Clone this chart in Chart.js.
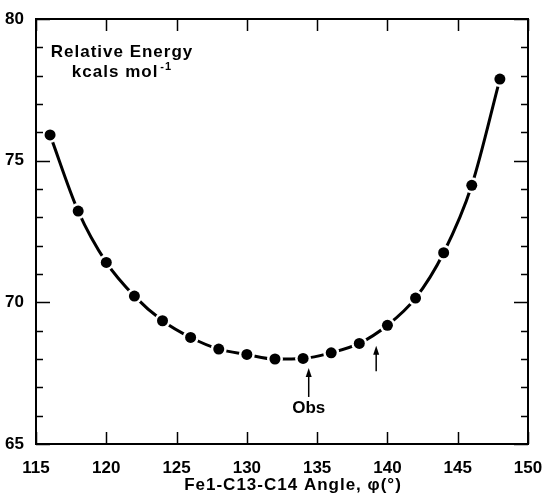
<!DOCTYPE html>
<html>
<head>
<meta charset="utf-8">
<script src="https://cdn.jsdelivr.net/npm/chart.js@4.4.0/dist/chart.umd.min.js"></script>
<style>
  html, body { margin: 0; padding: 0; background: #fff; }
  #wrap { width: 550px; height: 494px; }
</style>
</head>
<body>
<div id="wrap"><canvas id="chart" width="550" height="494"></canvas></div>
<script>
// angle (deg) and relative energy (kcal/mol)
const angles = [116, 118, 120, 122, 124, 126, 128, 130, 132, 134, 136, 138, 140, 142, 144, 146, 148];
const energies = [75.91, 73.22, 71.41, 70.22, 69.35, 68.76, 68.35, 68.16, 68.0, 68.02, 68.22, 68.55, 69.19, 70.15, 71.75, 74.13, 77.88];

// arrows: [x, tail y, head y]
const obsArrow = [134.4, 66.66, 67.68];
const calcArrow = [139.2, 67.57, 68.47];

const xTicks = [115, 120, 125, 130, 135, 140, 145, 150];
const yLabels = [65, 70, 75, 80];

const FONT = '"Liberation Sans", Arial, Helvetica, sans-serif';
const points = angles.map((a, i) => ({ x: a, y: energies[i] }));

// inside tick marks, frame, arrows and the text inside the plot
const decorations = {
  id: 'decorations',
  afterDraw(chart) {
    const { ctx, chartArea: a, scales: { x, y } } = chart;
    ctx.save();
    ctx.strokeStyle = '#000';
    ctx.lineWidth = 2;
    ctx.strokeRect(a.left, a.top, a.right - a.left, a.bottom - a.top);

    ctx.lineWidth = 1.5;
    ctx.beginPath();
    y.ticks.forEach(t => {
      const py = Math.round(y.getPixelForValue(t.value)) + 0.5;
      const len = t.value % 5 === 0 ? 14 : 7;
      ctx.moveTo(a.left, py); ctx.lineTo(a.left + len, py);
      ctx.moveTo(a.right, py); ctx.lineTo(a.right - len, py);
    });
    x.ticks.forEach(t => {
      const px = Math.round(x.getPixelForValue(t.value)) + 0.5;
      ctx.moveTo(px, a.bottom); ctx.lineTo(px, a.bottom - 12);
      ctx.moveTo(px, a.top); ctx.lineTo(px, a.top + 12);
    });
    ctx.stroke();

    // arrows
    [obsArrow, calcArrow].forEach(([ax, y0, y1]) => {
      const px = x.getPixelForValue(ax);
      const p0 = y.getPixelForValue(y0), p1 = y.getPixelForValue(y1);
      ctx.lineWidth = 1.5;
      ctx.beginPath();
      ctx.moveTo(px, p0); ctx.lineTo(px, p1 + 6);
      ctx.stroke();
      ctx.beginPath();
      ctx.moveTo(px, p1); ctx.lineTo(px - 3, p1 + 9); ctx.lineTo(px + 3, p1 + 9);
      ctx.closePath();
      ctx.fillStyle = '#000';
      ctx.fill();
    });

    ctx.fillStyle = '#000';
    ctx.textAlign = 'center';
    ctx.textBaseline = 'alphabetic';
    ctx.font = 'bold 17px ' + FONT;
    ctx.fillText('Obs', x.getPixelForValue(obsArrow[0]), y.getPixelForValue(obsArrow[1]) + 16);

    ctx.letterSpacing = '1px';
    ctx.fillText('Relative Energy', a.left + 86, a.top + 38);

    // x axis title
    ctx.fillText('Fe1-C13-C14 Angle, φ(°)', (a.left + a.right) / 2 + 11, a.bottom + 46);

    ctx.textAlign = 'left';
    const base = 'kcals mol';
    const w = ctx.measureText(base).width;
    ctx.font = 'bold 11px ' + FONT;
    const sw = ctx.measureText('-1').width;
    const sx = a.left + 86 - (w + sw + 2) / 2;
    ctx.font = 'bold 17px ' + FONT;
    ctx.fillText(base, sx, a.top + 58);
    ctx.font = 'bold 11px ' + FONT;
    ctx.fillText('-1', sx + w + 2, a.top + 51);
    ctx.restore();
  }
};

new Chart(document.getElementById('chart'), {
  type: 'line',
  data: {
    datasets: [
      {
        data: points,
        borderColor: '#000',
        borderWidth: 3,
        cubicInterpolationMode: 'monotone',
        pointRadius: 0,
        fill: false,
        order: 3
      },
      {
        data: points,
        showLine: false,
        pointRadius: 8,
        pointBackgroundColor: '#fff',
        pointBorderWidth: 0,
        order: 2
      },
      {
        data: points,
        showLine: false,
        pointRadius: 5.5,
        pointBackgroundColor: '#000',
        pointBorderWidth: 0,
        order: 1
      }
    ]
  },
  options: {
    responsive: false,
    animation: false,
    layout: { padding: { top: 19, right: 22, left: 0, bottom: 0 } },
    plugins: { legend: { display: false }, tooltip: { enabled: false } },
    scales: {
      x: {
        type: 'linear',
        min: 115,
        max: 150,
        afterBuildTicks: s => { s.ticks = xTicks.map(v => ({ value: v })); },
        afterFit: s => { s.height = 50; },
        grid: { display: false },
        border: { display: false },
        ticks: {
          padding: 6,
          color: '#000',
          maxRotation: 0,
          font: { family: FONT, size: 17, weight: 'bold' }
        }
      },
      y: {
        min: 65,
        max: 80,
        afterFit: s => { s.width = 36; },
        grid: { display: false },
        border: { display: false },
        ticks: {
          stepSize: 1,
          padding: 4,
          color: '#000',
          font: { family: FONT, size: 17, weight: 'bold' },
          callback: v => yLabels.includes(v) ? v : ''
        }
      }
    }
  },
  plugins: [decorations]
});
</script>
</body>
</html>
